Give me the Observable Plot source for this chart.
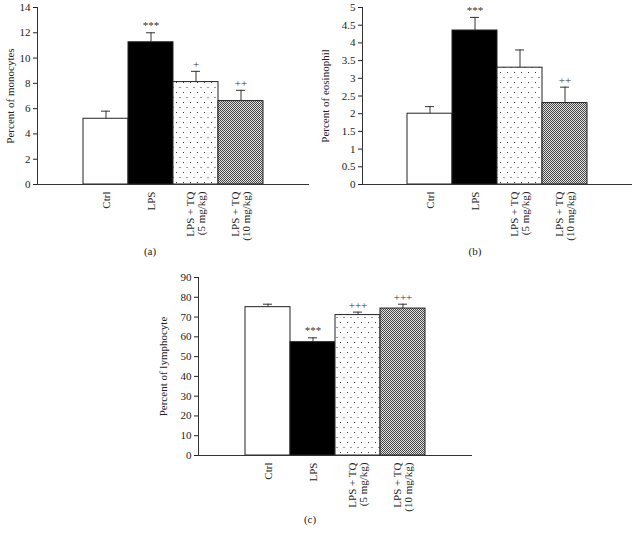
<!DOCTYPE html>
<html><head><meta charset="utf-8">
<script src="https://cdn.jsdelivr.net/npm/d3@7"></script>
<script src="https://cdn.jsdelivr.net/npm/@observablehq/plot@0.6"></script>
<style>
body{margin:0;background:#fff;width:632px;height:534px;position:relative;overflow:hidden;font-family:"Liberation Serif","DejaVu Serif",serif;}
.panel{position:absolute;}
.cap{position:absolute;font-size:11px;color:#222;transform:translateX(-50%);}
</style></head><body>
<script>
const groups = ["Ctrl", "LPS", "LPS + TQ\n(5 mg/kg)", "LPS + TQ\n(10 mg/kg)"];
const monocytes = [5.2, 11.25, 8.1, 6.6];
const monocytesErr = [0.6, 0.75, 0.85, 0.85];
const monocytesSig = ["", "***", "+", "++"];
const eosinophil = [2.0, 4.35, 3.3, 2.3];
const eosinophilErr = [0.2, 0.37, 0.5, 0.45];
const eosinophilSig = ["", "***", "", "++"];
const lymphocyte = [75, 57.3, 71, 74.3];
const lymphocyteErr = [1.5, 2.2, 1.5, 2.2];
const lymphocyteSig = ["", "***", "+++", "+++"];
const ticksA = [0, 2, 4, 6, 8, 10, 12, 14];
const ticksB = [0, 0.5, 1, 1.5, 2, 2.5, 3, 3.5, 4, 4.5, 5];
const ticksC = [0, 10, 20, 30, 40, 50, 60, 70, 80, 90];

function panel(id, vals, errs, sigs, ticks, label, box) {
  const fills = ["white", "black", `url(#sparse${id})`, `url(#dense${id})`];
  const data = groups.map((g, i) => ({g, v: vals[i], top: vals[i] + errs[i], s: sigs[i], fill: fills[i]}));
  const font = `"Liberation Serif","DejaVu Serif",serif`;
  const p = Plot.plot({
    width: box.w, height: box.h,
    marginLeft: box.ml, marginRight: box.mr, marginTop: box.mt, marginBottom: box.mb,
    style: {fontFamily: font, fontSize: "11px", color: "#222", background: "white"},
    x: {domain: groups, paddingInner: 0, paddingOuter: 1, align: 0.5},
    y: {domain: [0, ticks[ticks.length - 1]]},
    color: {type: "identity"},
    marks: [
      Plot.barY(data, {x: "g", y: "v", fill: "fill", stroke: "#222", strokeWidth: 1, inset: 0}),
      Plot.ruleX(data, {x: "g", y1: "v", y2: "top", stroke: "#333", strokeWidth: 1}),
      Plot.tickY(data, {x: "g", y: "top", stroke: "#333", strokeWidth: 1, insetLeft: 18, insetRight: 18}),
      Plot.text(data, {x: "g", y: "top", text: "s", dy: -7, fontSize: 11, fill: "#333"}),
      Plot.frame({anchor: "left", stroke: "#333"}),
      Plot.frame({anchor: "bottom", stroke: "#333"}),
      Plot.axisY({ticks: ticks, tickFormat: d => String(d), tickSize: 4, tickPadding: 3, label: label, labelAnchor: "center", labelArrow: "none", labelOffset: box.lo, fontSize: 11}),
      Plot.axisX({tickSize: 0, tickRotate: -90, tickPadding: 7, textAnchor: "end", lineAnchor: "middle", label: null, fontSize: 11, lineHeight: 1.05})
    ]
  });
  p.insertAdjacentHTML("afterbegin", `<defs>
    <pattern id="sparse${id}" width="7" height="10" patternUnits="userSpaceOnUse">
      <rect width="7" height="10" fill="white"/>
      <rect x="1" y="2" width="1" height="1" fill="#333"/>
      <rect x="4.5" y="7" width="1" height="1" fill="#333"/>
    </pattern>
    <pattern id="dense${id}" width="2" height="2" patternUnits="userSpaceOnUse">
      <rect width="2" height="2" fill="#e4e4e4"/>
      <rect x="0" y="0" width="1" height="1" fill="#444"/>
      <rect x="1" y="1" width="1" height="1" fill="#444"/>
    </pattern></defs>`);
  p.classList.add("panel");
  p.style.left = box.x + "px";
  p.style.top = box.y + "px";
  document.body.appendChild(p);
}

panel("A", monocytes, monocytesErr, monocytesSig, ticksA, "Percent of monocytes",
  {x: 0, y: 0, w: 310, h: 245, ml: 37, mr: 2, mt: 7, mb: 61, lo: 31});
panel("B", eosinophil, eosinophilErr, eosinophilSig, ticksB, "Percent of eosinophil",
  {x: 310, y: 0, w: 322, h: 245, ml: 52, mr: 0, mt: 7, mb: 61, lo: 41});
panel("C", lymphocyte, lymphocyteErr, lymphocyteSig, ticksC, "Percent of lymphocyte",
  {x: 150, y: 260, w: 330, h: 252, ml: 48, mr: 9, mt: 17, mb: 57, lo: 39});

const caps = [["(a)", 150, 245], ["(b)", 475, 245], ["(c)", 310, 513]];
for (const [t, x, y] of caps) {
  const d = document.createElement("div");
  d.className = "cap"; d.textContent = t;
  d.style.left = x + "px"; d.style.top = y + "px";
  document.body.appendChild(d);
}
</script>
</body></html>
